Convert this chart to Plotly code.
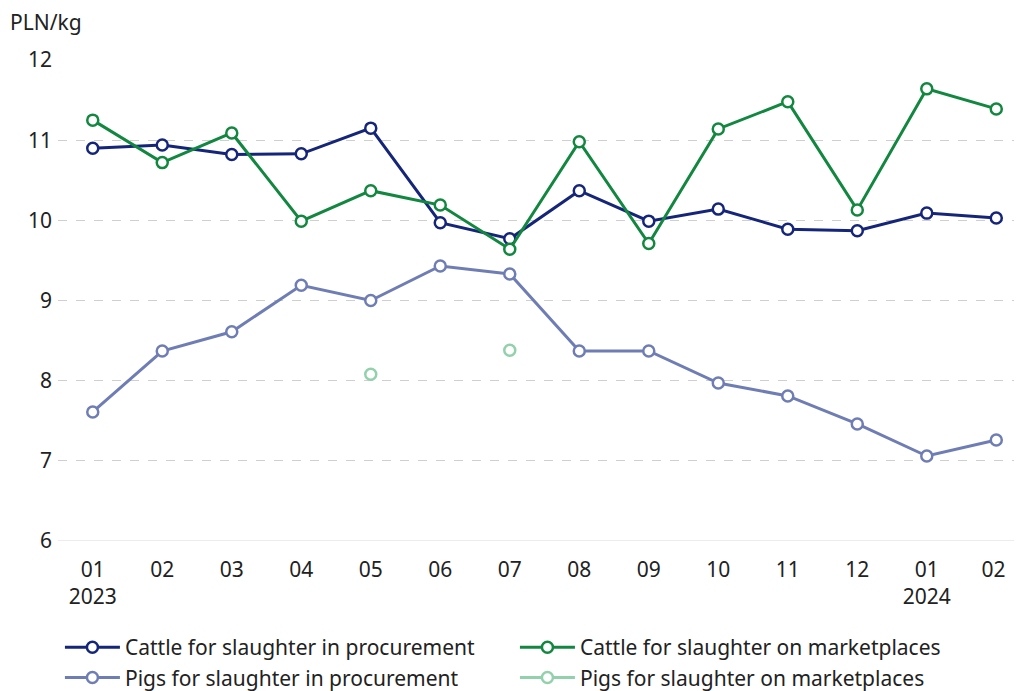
import plotly.graph_objects as go

months = ["01<br>2023", "02", "03", "04", "05", "06", "07", "08", "09", "10", "11", "12", "01<br>2024", "02 "]
cattle_procurement = [10.90, 10.94, 10.82, 10.83, 11.15, 9.97, 9.77, 10.37, 9.99, 10.14, 9.89, 9.87, 10.09, 10.03]
cattle_marketplaces = [11.25, 10.72, 11.09, 9.99, 10.37, 10.19, 9.64, 10.98, 9.71, 11.14, 11.48, 10.13, 11.64, 11.39]
pigs_procurement = [7.61, 8.37, 8.61, 9.19, 9.00, 9.43, 9.33, 8.37, 8.37, 7.97, 7.81, 7.46, 7.06, 7.26]
pigs_marketplaces = [None, None, None, None, 8.08, None, 8.38, None, None, None, None, None, None, None]

series = [
    ("Cattle for slaughter in procurement", cattle_procurement, "#15267a"),
    ("Cattle for slaughter on marketplaces", cattle_marketplaces, "#12873f"),
    ("Pigs for slaughter in procurement", pigs_procurement, "#6f7db5"),
    ("Pigs for slaughter on marketplaces", pigs_marketplaces, "#93d1ac"),
]

FS = 21

fig = go.Figure()
for name, vals, color in series:
    fig.add_trace(go.Scatter(
        x=months, y=vals, name=name, mode="lines+markers",
        line=dict(color=color, width=3),
        marker=dict(symbol="circle", size=11, color="white",
                    line=dict(color=color, width=2.5)),
        connectgaps=False,
    ))

fig.update_layout(
    width=1014, height=683,
    paper_bgcolor="white", plot_bgcolor="white",
    margin=dict(l=50, r=0, t=52, b=150, autoexpand=False),
    font=dict(family="Noto Sans", size=FS, color="#222222"),
    showlegend=True,
    legend=dict(orientation="h", x=0.002, xanchor="left", y=-0.179, yanchor="top",
                entrywidth=385, entrywidthmode="pixels", tracegroupgap=0,
                font=dict(size=FS), itemwidth=55),
)
fig.add_annotation(text="PLN/kg", xref="paper", yref="paper", x=-50/964, y=1 + 38/481,
                   xanchor="left", yanchor="middle", showarrow=False, font=dict(size=FS))

fig.update_xaxes(type="category", range=[-0.5, 13.37], showgrid=False,
                 showline=False, ticks="", tickfont=dict(size=FS),
                 ticklabelstandoff=14, automargin=False)
fig.update_yaxes(range=[6, 12], dtick=1, showgrid=True, gridcolor="#cfcfcf",
                 griddash="dash", gridwidth=1, zeroline=False, ticks="",
                 ticklabelstandoff=5, tickfont=dict(size=FS), automargin=False)
fig.add_hline(y=6, line=dict(color="#d9d9d9", width=1), layer="below")

fig.write_html("out.html")
